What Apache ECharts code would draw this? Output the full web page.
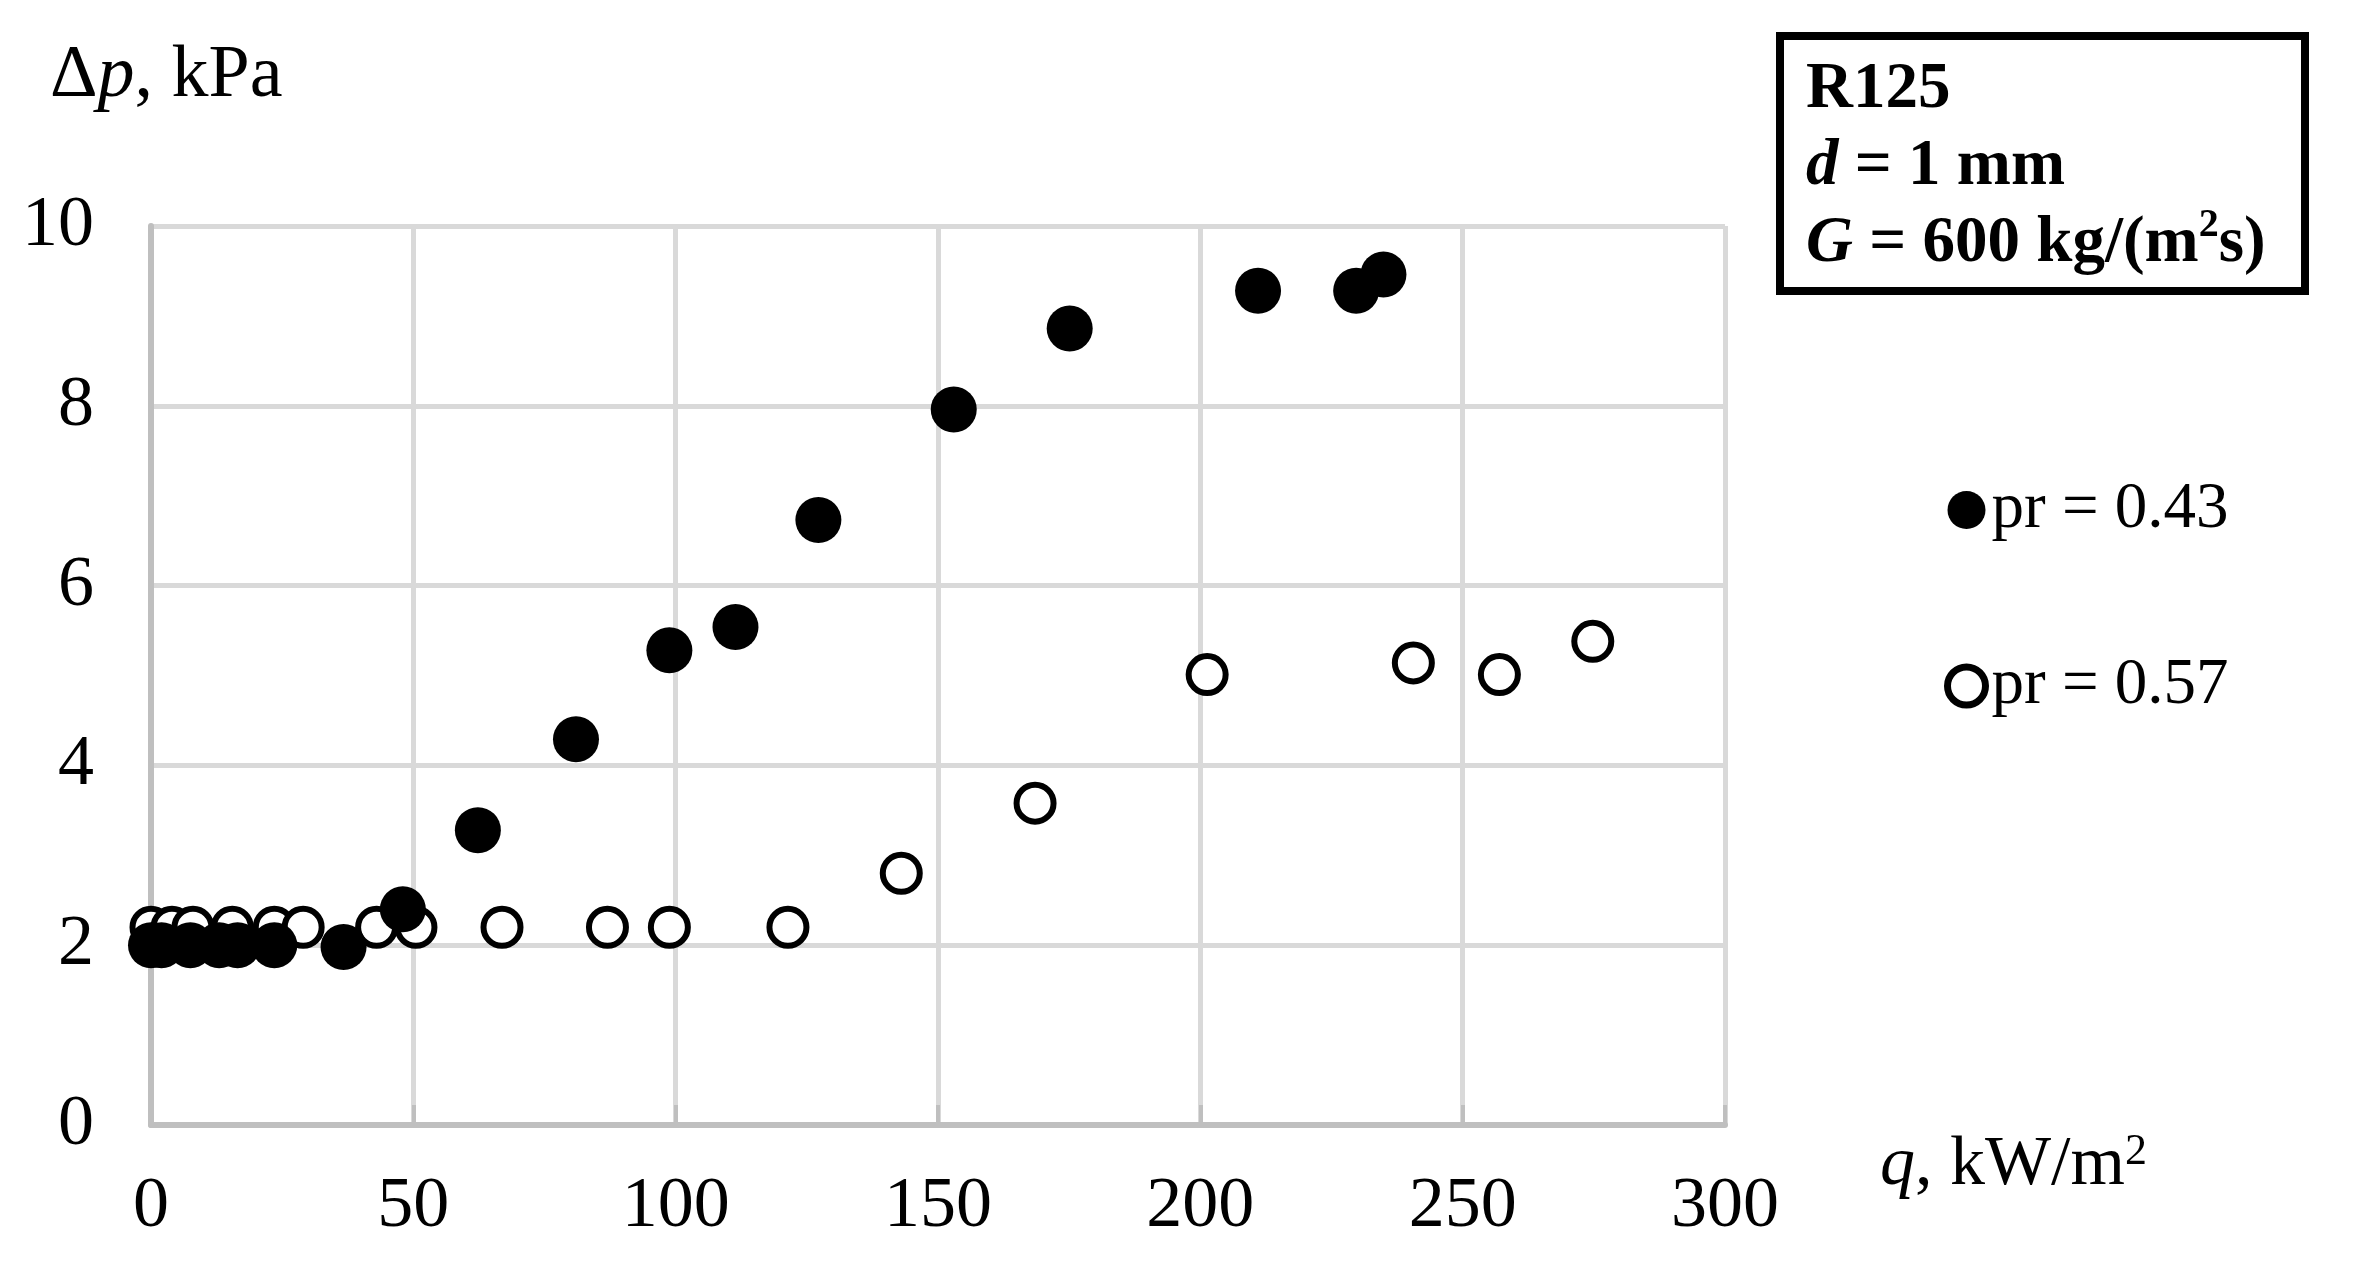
<!DOCTYPE html>
<html>
<head>
<meta charset="utf-8">
<title>R125 pressure drop</title>
<script src="https://cdn.jsdelivr.net/npm/echarts@6/dist/echarts.min.js"></script>
<style>
  html, body { margin: 0; padding: 0; background: #fff; }
  #chart { width: 2362px; height: 1277px; }
</style>
</head>
<body>
<div id="chart"></div>
<script>
// pr = 0.43 (filled circles)
var qFilled  = [0, 2, 7.5, 13, 16.5, 23.5, 36.7, 48, 62.3, 81, 98.8, 111.4, 127.2, 153, 175.1, 211, 229.7, 234.9];
var dpFilled = [2.0, 2.0, 2.0, 2.0, 2.0, 2.0, 1.98, 2.4, 3.28, 4.29, 5.28, 5.54, 6.73, 7.96, 8.86, 9.28, 9.28, 9.46];
// pr = 0.57 (open circles)
var qOpen  = [0, 4, 8, 15.5, 23.5, 29, 43, 50.5, 66.9, 87, 98.8, 121.4, 143, 168.5, 201.3, 240.6, 257, 274.8];
var dpOpen = [2.2, 2.2, 2.2, 2.2, 2.2, 2.2, 2.2, 2.2, 2.2, 2.2, 2.2, 2.2, 2.8, 3.58, 5.01, 5.14, 5.01, 5.38];

var xTicks = [0, 50, 100, 150, 200, 250, 300];
var yTicks = [0, 2, 4, 6, 8, 10];
var seriesNames = ['pr = 0.43', 'pr = 0.57'];

function zip(xs, ys) {
  var out = [];
  for (var i = 0; i < xs.length; i++) out.push([xs[i], ys[i]]);
  return out;
}

var serif = '"Liberation Serif", "DejaVu Serif", serif';

var chart = echarts.init(document.getElementById('chart'));
chart.setOption({
  backgroundColor: '#fff',
  animation: false,
  grid: {
    left: 151,
    right: 637,
    top: 226,
    bottom: 152
  },
  xAxis: {
    type: 'value',
    min: xTicks[0],
    max: xTicks[xTicks.length - 1],
    interval: 50,
    axisLine: { show: true, lineStyle: { color: '#bfbfbf', width: 6 } },
    axisTick: { show: true, inside: true, length: 20, lineStyle: { color: '#bfbfbf', width: 4 } },
    splitLine: { show: true, lineStyle: { color: '#d9d9d9', width: 5 } },
    axisLabel: {
      margin: 46,
      color: '#000',
      fontFamily: serif,
      fontSize: 72
    }
  },
  yAxis: {
    type: 'value',
    min: yTicks[0],
    max: yTicks[yTicks.length - 1],
    interval: 2,
    axisLine: { show: true, lineStyle: { color: '#bfbfbf', width: 6 } },
    axisTick: { show: false },
    splitLine: { show: true, lineStyle: { color: '#d9d9d9', width: 5 } },
    axisLabel: {
      margin: 57,
      color: '#000',
      fontFamily: serif,
      fontSize: 72
    }
  },
  legend: {
    orient: 'vertical',
    left: 1939,
    top: 470,
    itemGap: 106,
    itemWidth: 38,
    itemHeight: 38,
    data: [
      { name: seriesNames[0], itemStyle: { color: '#000', borderWidth: 0 } },
      { name: seriesNames[1], itemStyle: { color: '#fff', borderColor: '#000', borderWidth: 7 } }
    ],
    textStyle: {
      color: '#000',
      fontFamily: serif,
      fontSize: 65,
      lineHeight: 70,
      padding: [0, 0, 0, 1]
    }
  },
  graphic: [
    {
      type: 'text',
      left: 50,
      top: 40,
      style: {
        text: 'Δ{i|p}, kPa',
        fill: '#000',
        font: '74px ' + serif,
        rich: {
          i: { fontStyle: 'italic', fontSize: 74, fontFamily: serif, fill: '#000' }
        }
      }
    },
    {
      type: 'text',
      left: 1880,
      top: 1130,
      style: {
        text: '{i|q}, kW/m{sup|2}',
        fill: '#000',
        font: '70px ' + serif,
        lineHeight: 72,
        rich: {
          i: { fontStyle: 'italic', fontSize: 70, fontFamily: serif, fill: '#000', lineHeight: 72 },
          sup: { fontSize: 44, fontFamily: serif, fill: '#000', verticalAlign: 'top', lineHeight: 44 }
        }
      }
    },
    {
      type: 'rect',
      shape: { x: 1780, y: 36, width: 525, height: 255 },
      style: { fill: '#fff', stroke: '#000', lineWidth: 8 }
    },
    {
      type: 'text',
      left: 1806,
      top: 52,
      style: {
        text: 'R125\n{i|d} = 1 mm\n{i|G} = 600 kg/(m{sup|2}s)',
        fill: '#000',
        font: 'bold 65px ' + serif,
        lineHeight: 77,
        rich: {
          i: { fontStyle: 'italic', fontWeight: 'bold', fontSize: 65, fontFamily: serif, fill: '#000', lineHeight: 77 },
          sup: { fontWeight: 'bold', fontSize: 40, fontFamily: serif, fill: '#000', verticalAlign: 'top', lineHeight: 60 }
        }
      }
    }
  ],
  series: [
    {
      name: seriesNames[1],
      type: 'scatter',
      symbol: 'circle',
      symbolSize: 37,
      itemStyle: { color: '#fff', borderColor: '#000', borderWidth: 6, opacity: 1 },
      data: zip(qOpen, dpOpen)
    },
    {
      name: seriesNames[0],
      type: 'scatter',
      symbol: 'circle',
      symbolSize: 46,
      itemStyle: { color: '#000', opacity: 1 },
      data: zip(qFilled, dpFilled)
    }
  ]
});
</script>
</body>
</html>
